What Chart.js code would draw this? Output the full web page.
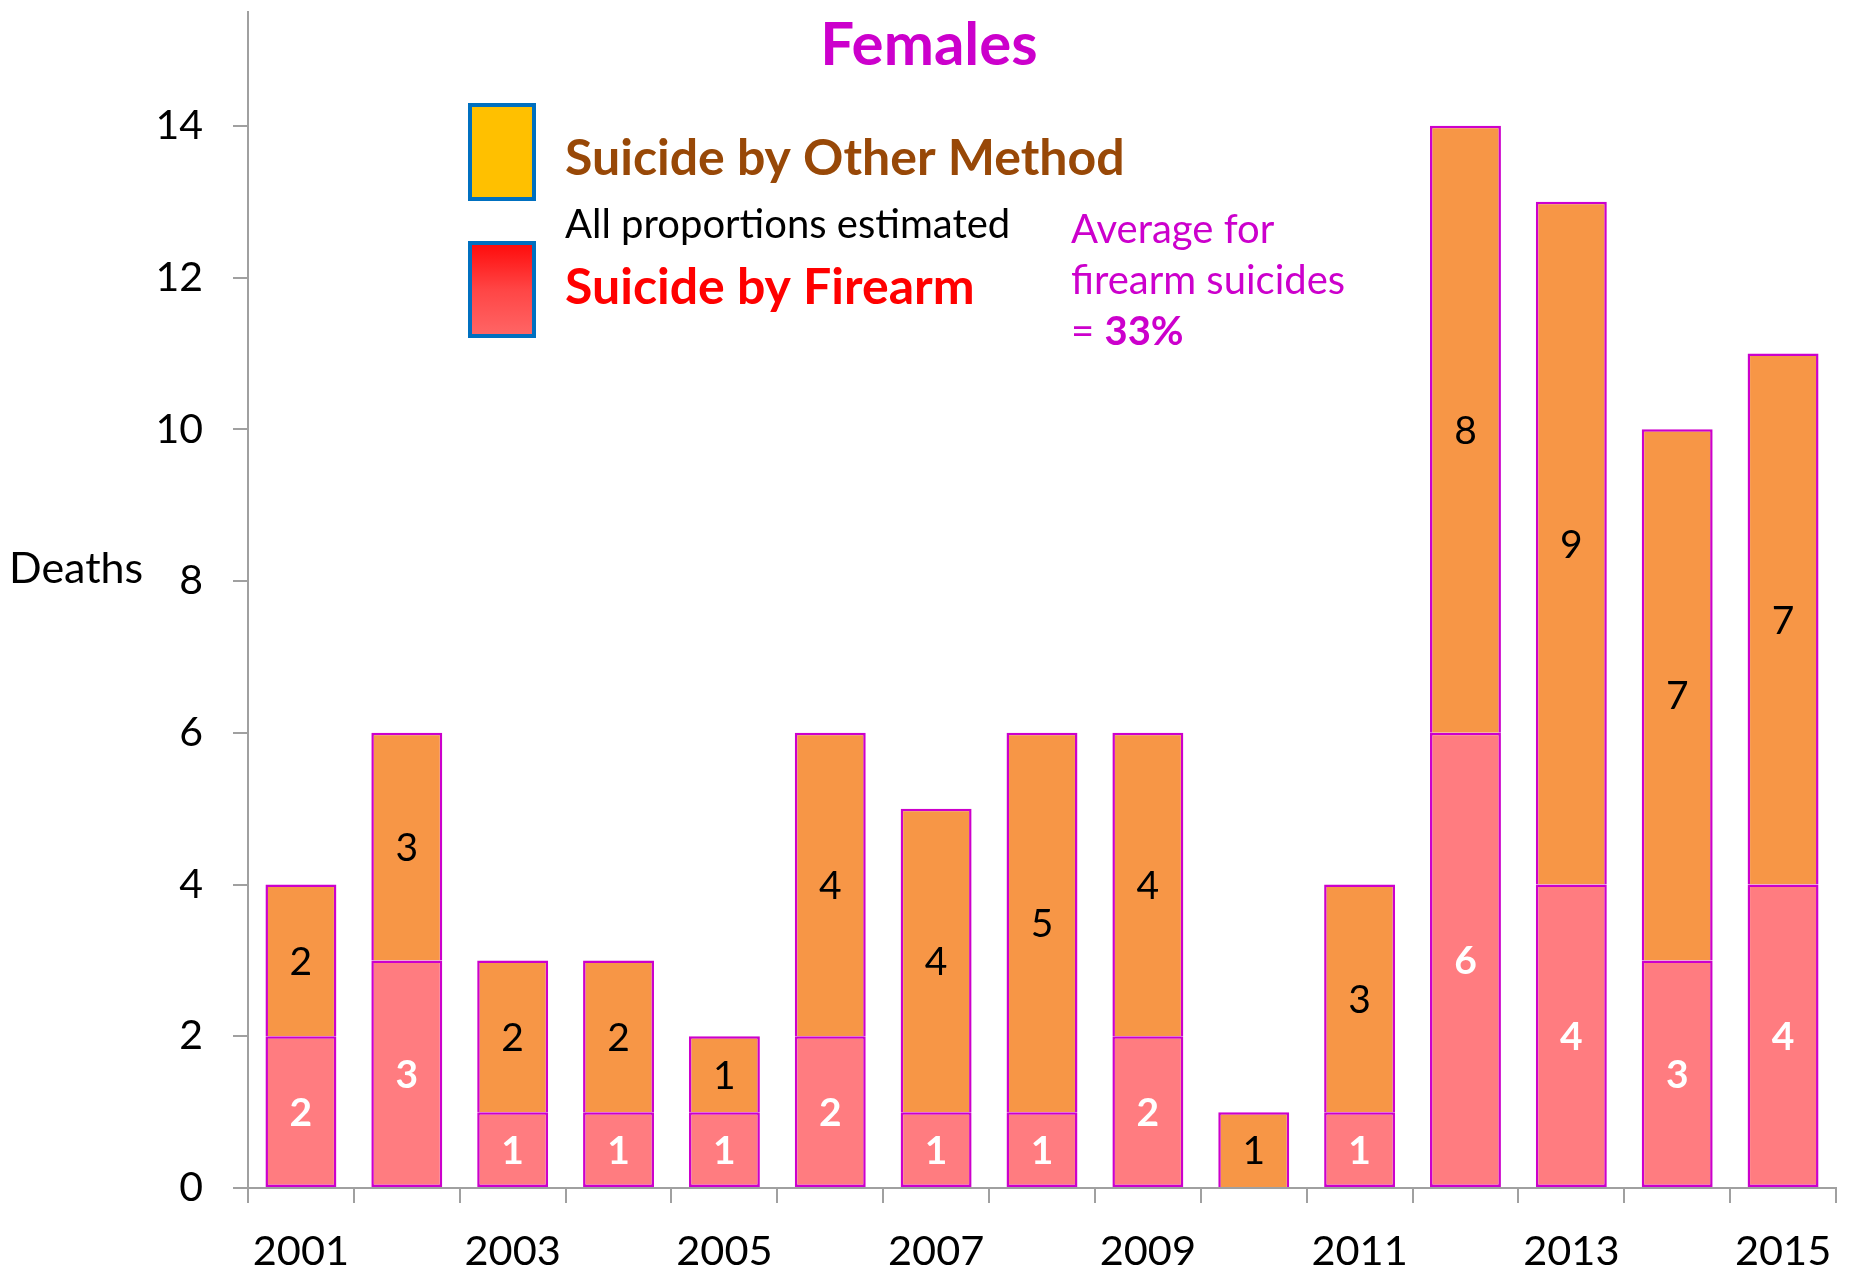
<!DOCTYPE html>
<html>
<head>
<meta charset="utf-8">
<script src="https://cdn.jsdelivr.net/npm/chart.js@4/dist/chart.umd.min.js"></script>
<style>
html,body{margin:0;padding:0;background:#fff;}
canvas{display:block;}
</style>
</head>
<body>
<canvas id="c" width="1855" height="1275"></canvas>
<script>
const years = ['2001','2002','2003','2004','2005','2006','2007','2008','2009','2010','2011','2012','2013','2014','2015'];
const firearm = [2,3,1,1,1,2,1,1,2,0,1,6,4,3,4];
const otherMethod = [2,3,2,2,1,4,4,5,4,1,3,8,9,7,7];
const yTickValues = [0,2,4,6,8,10,12,14];
const titleText = 'Females';
const yAxisLabel = 'Deaths';
const legendOther = 'Suicide by Other Method';
const legendFirearm = 'Suicide by Firearm';
const noteText = 'All proportions estimated';
const avgLines = ['Average for', 'firearm suicides'];
const avgValue = '33%';

const FONT = "Lato, 'Open Sans', sans-serif";

const barLabels = {
  id: 'barLabels',
  afterDatasetsDraw(chart) {
    const ctx = chart.ctx;
    ctx.save();
    ctx.textAlign = 'center';
    ctx.textBaseline = 'middle';
    chart.data.datasets.forEach((ds, di) => {
      const meta = chart.getDatasetMeta(di);
      meta.data.forEach((el, i) => {
        const v = ds.data[i];
        if (!v) return;
        const p = el.getProps(['x','y','base'], true);
        ctx.font = (di === 0 ? 'bold ' : '') + '39px ' + FONT;
        ctx.fillStyle = di === 0 ? '#ffffff' : '#000000';
        ctx.fillText(String(v), p.x, (p.y + p.base) / 2 + 2);
      });
    });
    ctx.restore();
  }
};

const decorations = {
  id: 'decorations',
  afterDraw(chart) {
    const ctx = chart.ctx;
    ctx.save();
    ctx.textBaseline = 'middle';
    // title
    ctx.textAlign = 'center';
    ctx.fillStyle = '#CC00CC';
    ctx.font = 'bold 60px ' + FONT;
    ctx.fillText(titleText, 929, 46);
    // y axis label
    ctx.textAlign = 'left';
    ctx.fillStyle = '#000';
    ctx.font = '43px ' + FONT;
    ctx.fillText(yAxisLabel, 9, 569);
    // legend boxes
    ctx.lineWidth = 4;
    ctx.strokeStyle = '#0070C0';
    ctx.fillStyle = '#FFC000';
    ctx.fillRect(470, 105, 64, 94);
    ctx.strokeRect(470, 105, 64, 94);
    const g = ctx.createLinearGradient(0, 243, 0, 336);
    g.addColorStop(0, '#FF0A0A');
    g.addColorStop(0.5, '#FF4545');
    g.addColorStop(1, '#FF6666');
    ctx.fillStyle = g;
    ctx.fillRect(470, 243, 64, 93);
    ctx.strokeRect(470, 243, 64, 93);
    // legend texts
    ctx.font = 'bold 50px ' + FONT;
    ctx.fillStyle = '#984807';
    ctx.fillText(legendOther, 565, 159);
    ctx.font = '40px ' + FONT;
    ctx.fillStyle = '#000';
    ctx.fillText(noteText, 565, 225);
    ctx.font = 'bold 50px ' + FONT;
    ctx.fillStyle = '#FF0000';
    ctx.fillText(legendFirearm, 565, 288);
    // average note
    ctx.font = '40px ' + FONT;
    ctx.fillStyle = '#CC00CC';
    ctx.fillText(avgLines[0], 1071, 230);
    ctx.fillText(avgLines[1], 1071, 281);
    ctx.fillText('= ', 1071, 332);
    const w = ctx.measureText('= ').width;
    ctx.font = 'bold 40px ' + FONT;
    ctx.fillText(avgValue, 1071 + w, 332);
    ctx.restore();
  }
};

new Chart(document.getElementById('c'), {
  type: 'bar',
  data: {
    labels: years,
    datasets: [
      {
        label: legendFirearm,
        data: firearm,
        backgroundColor: '#FF7C80',
        borderColor: '#CC00CC',
        borderWidth: 2.5,
        borderSkipped: false,
        barPercentage: 0.67,
        categoryPercentage: 1.0
      },
      {
        label: legendOther,
        data: otherMethod,
        backgroundColor: '#F79646',
        borderColor: '#CC00CC',
        borderWidth: 2.5,
        borderSkipped: 'bottom',
        barPercentage: 0.67,
        categoryPercentage: 1.0
      }
    ]
  },
  options: {
    responsive: false,
    animation: false,
    devicePixelRatio: 1,
    layout: { padding: { top: 12, right: 19, left: 0, bottom: 0 } },
    plugins: { legend: { display: false }, tooltip: { enabled: false }, title: { display: false } },
    scales: {
      x: {
        stacked: true,
        offset: true,
        grid: { offset: true, drawOnChartArea: false, drawTicks: true, tickLength: 15, color: '#A0A0A0', lineWidth: 2 },
        border: { display: true, color: '#A0A0A0', width: 2 },
        ticks: {
          autoSkip: false, maxRotation: 0, minRotation: 0, padding: 24,
          color: '#000', font: { family: FONT, size: 41.5 },
          callback: function(val, idx) { return idx % 2 === 0 ? years[idx] : ''; }
        },
        afterFit(scale) { scale.height = 87; scale.paddingLeft = 0; scale.paddingRight = 0; }
      },
      y: {
        stacked: true,
        min: 0,
        max: 15.5,
        grid: { drawOnChartArea: false, drawTicks: true, tickLength: 15, color: '#A0A0A0', lineWidth: 2 },
        border: { display: true, color: '#A0A0A0', width: 2 },
        ticks: { stepSize: 2, padding: 30, color: '#000', font: { family: FONT, size: 41 } },
        afterBuildTicks(scale) { scale.ticks = yTickValues.map(v => ({ value: v })); },
        afterFit(scale) { scale.width = 248; scale.paddingTop = 0; scale.paddingBottom = 0; }
      }
    }
  },
  plugins: [barLabels, decorations]
});
</script>
</body>
</html>
